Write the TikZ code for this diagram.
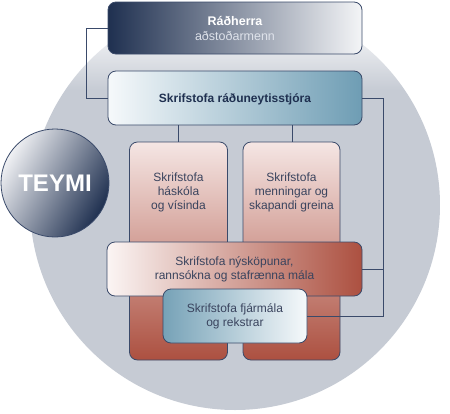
\documentclass[tikz,border=0pt]{standalone}
\usepackage{fontspec}
\setmainfont{Liberation Sans}
\definecolor{cgray}{RGB}{198,203,212}
\definecolor{navy}{RGB}{31,48,80}
\definecolor{edge}{RGB}{58,74,106}
\definecolor{txt}{RGB}{58,68,94}
\definecolor{steel}{RGB}{110,157,180}
\definecolor{redd}{RGB}{172,80,64}
\pgfdeclareverticalshading{graycirc}{100bp}{color(0bp)=(cgray); color(64bp)=(cgray); color(73bp)=(white); color(100bp)=(white)}
\tikzset{
  box/.style={draw=edge, line width=0.8pt, rounded corners=8pt, inner sep=0pt},
  conn/.style={draw=edge, line width=0.8pt},
  lbl/.style={align=center, text=txt, font=\fontsize{12}{14}\selectfont, inner sep=0pt},
}
\begin{document}
\begin{tikzpicture}[x=1pt,y=-1pt]
\useasboundingbox (0,0) rectangle (450,413);
% background circle
\shade[shading=graycirc] (235,205) circle (205);
% boxes
\node[box, minimum width=254pt, minimum height=52pt, left color=navy, middle color={rgb,255:red,128;green,138;blue,157}, right color={rgb,255:red,244;green,245;blue,247}] (ra) at (235,28) {};
\node[box, minimum width=254pt, minimum height=54pt, left color={rgb,255:red,246;green,249;blue,251}, middle color={rgb,255:red,184;green,208;blue,218}, right color=steel] (sk) at (235,98) {};
% connectors top
\draw[conn] (ra.west) -- ++(-21,0) |- (sk.west);
\coordinate (hvx) at (178,0);
\coordinate (mnx) at (292,0);
% teymi
\node[circle, draw=edge, line width=0.8pt, minimum size=108pt, inner sep=0pt, top color={rgb,255:red,240;green,241;blue,244}, bottom color=navy, shading angle=60] (teymi) at (55,183) {};
\node[text=white, font=\fontsize{24}{28}\selectfont\bfseries, inner sep=0pt] (teymit) at (teymi.center) {TEYMI};
% red tall boxes
\node[box, minimum width=98pt, minimum height=218pt, top color={rgb,255:red,245;green,230;blue,228}, middle color={rgb,255:red,200;green,130;blue,118}, bottom color=redd] (hv) at (178.5,251) {};
\node[box, minimum width=97pt, minimum height=218pt, top color={rgb,255:red,245;green,230;blue,228}, middle color={rgb,255:red,200;green,130;blue,118}, bottom color=redd] (mn) at (291.5,251) {};
\draw[conn] (sk.south -| hvx) -- (hv.north -| hvx);
\draw[conn] (sk.south -| mnx) -- (mn.north -| mnx);
% nyskopunar
\node[box, minimum width=255pt, minimum height=54pt, left color={rgb,255:red,251;green,245;blue,244}, middle color={rgb,255:red,208;green,146;blue,136}, right color=redd] (ny) at (234.5,269) {};
% right connectors
\coordinate (rc) at (383,0);
\draw[conn] (sk.east) -- (sk.east -| rc) |- (ny.east);
\node[box, minimum width=144pt, minimum height=54pt, left color={rgb,255:red,118;green,162;blue,183}, middle color={rgb,255:red,190;green,212;blue,222}, right color={rgb,255:red,246;green,249;blue,251}] (fj) at (235,316) {};
\draw[conn] (ny.east -| rc) |- (fj.east);
% labels
\node[align=center, inner sep=0pt, font=\fontsize{12.5}{15}\selectfont] (rat) at (235,28.5) {\textcolor{white}{\bfseries Ráðherra}\\ \textcolor[RGB]{222,226,234}{aðstoðarmenn}};
\node[lbl, text=navy, font=\fontsize{12}{14}\selectfont\bfseries] (skt) at (235,99) {Skrifstofa ráðuneytisstjóra};
\node[lbl] (hvt) at (178.5,192) {Skrifstofa\\háskóla\\og vísinda};
\node[lbl] (mnt) at (291.5,192) {Skrifstofa\\menningar og\\skapandi greina};
\node[lbl] (nyt) at (234.5,269) {Skrifstofa nýsköpunar,\\rannsókna og stafrænna mála};
\node[lbl] (fjt) at (235,316.5) {Skrifstofa fjármála\\og rekstrar};
\end{tikzpicture}
\end{document}
